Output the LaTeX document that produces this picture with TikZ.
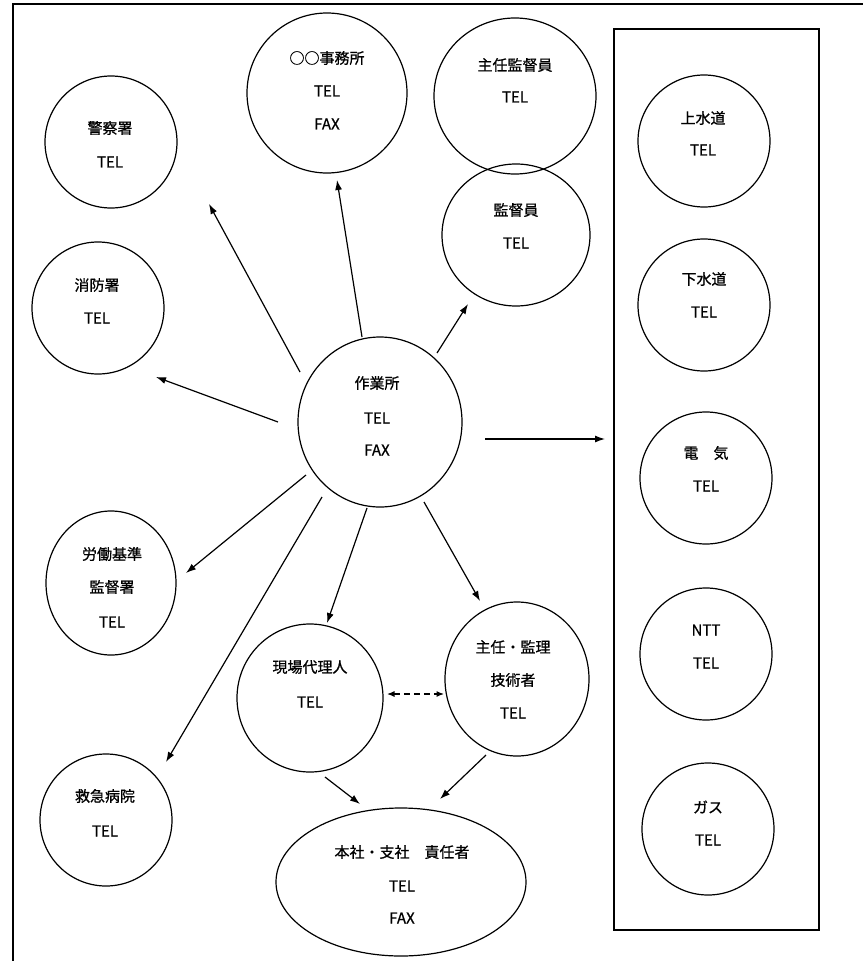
\documentclass[tikz,border=0pt]{standalone}
\usepackage{fontspec}
\setmainfont{Noto Sans CJK JP}[FakeBold=0.8]
\usetikzlibrary{shapes.geometric,arrows.meta}
\tikzset{
  x=1pt, y=-1pt,
  circ/.style={draw, ellipse, line width=1.2pt, inner sep=0pt},
  txt/.style={inner sep=0pt, anchor=center, font=\fontsize{15}{17}\selectfont},
  arr/.style={line width=1.2pt, -{Latex[length=10pt,width=7pt]}},
  darr/.style={line width=1.2pt, dash pattern=on 6pt off 4pt, {Latex[length=7.5pt,width=6pt]}-{Latex[length=7.5pt,width=6pt]}},
}
\newcommand{\circnode}[5]{\node[circ, minimum width=#4pt, minimum height=#5pt] (#1) at (#2,#3) {};}
\begin{document}
\begin{tikzpicture}
\useasboundingbox (0,0) rectangle (863,961);
% outer frame (partially visible)
\draw[line width=1.8pt] (13,961) -- (13,4) -- (863,4);
% right box
\draw[line width=1.3pt] (614,29) rectangle (819,930);

% circles
\circnode{keisatsu}{111}{142}{132}{132}
\circnode{shobo}{98}{308}{132}{132}
\circnode{jimusho}{327}{93}{160}{160}
\circnode{shunin}{515}{96}{162}{156}
\circnode{kantoku}{516}{235}{148}{142}
\circnode{sagyo}{380}{422}{164}{170}
\circnode{rodo}{111}{583}{130}{144}
\circnode{genba}{310}{698}{146}{148}
\circnode{gijutsu}{517}{679}{144}{154}
\circnode{kyukyu}{106}{820}{132}{132}
\circnode{honsha}{401}{882}{250}{148}
\circnode{josui}{704}{141}{132}{132}
\circnode{gesui}{704}{305}{132}{132}
\circnode{denki}{706}{478}{132}{132}
\circnode{ntt}{706}{654}{132}{132}
\circnode{gas}{708}{829}{132}{132}

% texts
\node[txt] (t1a) at (110,128) {警察署};
\node[txt] (t1b) at (110,162) {TEL};
\node[txt] (t2a) at (97,285) {消防署};
\node[txt] (t2b) at (97,318) {TEL};
\node[txt] (t3a) at (327,58) {○○事務所};
\node[txt] (t3b) at (327,91) {TEL};
\node[txt] (t3c) at (327,124) {FAX};
\node[txt] (t4a) at (515,65) {主任監督員};
\node[txt] (t4b) at (515,97) {TEL};
\node[txt] (t5a) at (516,210) {監督員};
\node[txt] (t5b) at (516,243) {TEL};
\node[txt] (t6a) at (377,383) {作業所};
\node[txt] (t6b) at (377,418) {TEL};
\node[txt] (t6c) at (377,450) {FAX};
\node[txt] (t7a) at (112,554) {労働基準};
\node[txt] (t7b) at (112,587) {監督署};
\node[txt] (t7c) at (112,622) {TEL};
\node[txt] (t8a) at (310,667) {現場代理人};
\node[txt] (t8b) at (310,702) {TEL};
\node[txt] (t9a) at (513,647) {主任・監理};
\node[txt] (t9b) at (513,680) {技術者};
\node[txt] (t9c) at (513,713) {TEL};
\node[txt] (t10a) at (105,796) {救急病院};
\node[txt] (t10b) at (105,831) {TEL};
\node[txt] (t11a) at (402,852) {本社・支社　責任者};
\node[txt] (t11b) at (402,886) {TEL};
\node[txt] (t11c) at (402,918) {FAX};
\node[txt] (t12a) at (703,118) {上水道};
\node[txt] (t12b) at (703,150) {TEL};
\node[txt] (t13a) at (704,279) {下水道};
\node[txt] (t13b) at (704,312) {TEL};
\node[txt] (t14a) at (706,453) {電　気};
\node[txt] (t14b) at (706,486) {TEL};
\node[txt] (t15a) at (706,630) {NTT};
\node[txt] (t15b) at (706,663) {TEL};
\node[txt] (t16a) at (708,807) {ガス};
\node[txt] (t16b) at (708,840) {TEL};

% arrow end points
\coordinate (s1) at (300,372); \coordinate (e1) at (209,204);
\coordinate (s2) at (362,337); \coordinate (e2) at (337,180);
\coordinate (s3) at (437,353); \coordinate (e3) at (468,304);
\coordinate (s4) at (278,422); \coordinate (e4) at (156,377);
\coordinate (s5) at (485,439); \coordinate (e5) at (605,439);
\coordinate (s6) at (306,475); \coordinate (e6) at (186,573);
\coordinate (s7) at (322,497); \coordinate (e7) at (166,762);
\coordinate (s8) at (367,508); \coordinate (e8) at (327,623);
\coordinate (s9) at (424,502); \coordinate (e9) at (480,601);
\coordinate (s10) at (387,694); \coordinate (e10) at (444,694);
\coordinate (s11) at (325,777); \coordinate (e11) at (360,804);
\coordinate (s12) at (486,755); \coordinate (e12) at (440,799);

\draw[arr] (s1) -- (e1);
\draw[arr] (s2) -- (e2);
\draw[arr] (s3) -- (e3);
\draw[arr] (s4) -- (e4);
\draw[arr] (s5) -- (e5);
\draw[arr] (s6) -- (e6);
\draw[arr] (s7) -- (e7);
\draw[arr] (s8) -- (e8);
\draw[arr] (s9) -- (e9);
\draw[darr] (s10) -- (e10);
\draw[arr] (s11) -- (e11);
\draw[arr] (s12) -- (e12);
\end{tikzpicture}
\end{document}
